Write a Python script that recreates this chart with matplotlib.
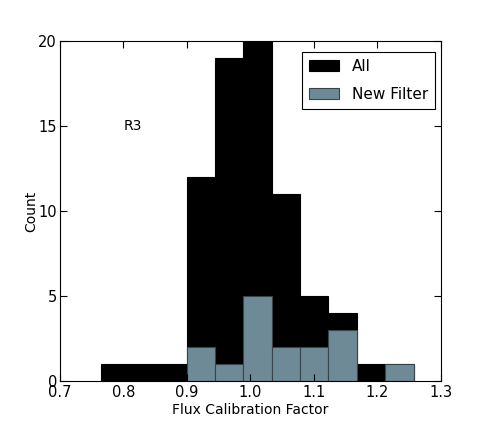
import numpy as np
import matplotlib
matplotlib.use("Agg")
import matplotlib.pyplot as plt

# histogram bins (11 bins from min to max of the data)
edges = np.linspace(0.7655, 1.257, 12)
all_counts = [1, 1, 1, 12, 19, 20, 11, 5, 4, 1, 1]
new_counts = [0, 0, 0, 2, 1, 5, 2, 2, 3, 0, 1]

fig = plt.figure(figsize=(4.91, 4.25), dpi=100)
ax = fig.add_axes([0.122, 0.1035, 0.776, 0.8])

widths = np.diff(edges)
ax.bar(edges[:-1], all_counts, width=widths, align='edge', color='black',
       edgecolor='black', linewidth=0.8, label='All')
ax.bar(edges[:-1], new_counts, width=widths, align='edge', color='#6e8a96',
       edgecolor='#3a4348', linewidth=0.8, label='New Filter')

ax.set_xlim(0.7, 1.3)
ax.set_ylim(0, 20)
ax.set_xticks([0.7, 0.8, 0.9, 1.0, 1.1, 1.2, 1.3])
ax.set_yticks([0, 5, 10, 15, 20])
ax.tick_params(direction='in', top=True, right=True, labelsize=10.5, length=5,
               pad=3)
ax.tick_params(axis='y', pad=2)
ax.set_xlabel('Flux Calibration Factor', fontsize=10, labelpad=2)
ax.set_ylabel('Count', fontsize=10, labelpad=0)
ax.text(0.8, 15, 'R3', fontsize=10, va='center', ha='left')

leg = ax.legend(loc='upper right', bbox_to_anchor=(0.984, 0.968), fontsize=11,
                fancybox=False, framealpha=1, edgecolor='black',
                handlelength=2.0, handleheight=0.8, borderaxespad=0,
                borderpad=0.45, labelspacing=0.85, handletextpad=0.8)
leg.get_frame().set_linewidth(0.8)

fig.savefig('out.png', dpi=100)
